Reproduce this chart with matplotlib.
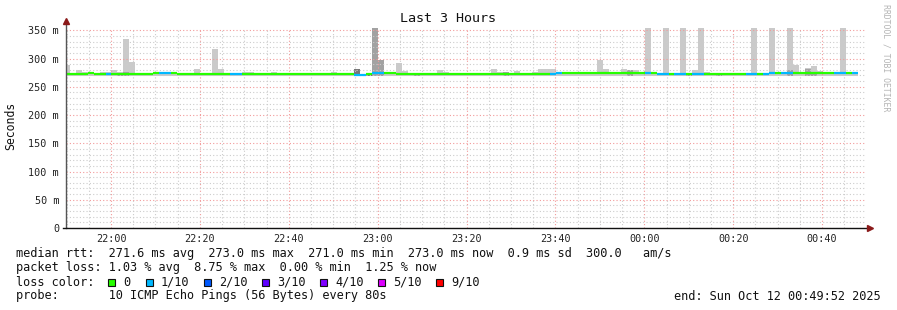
import datetime as dt
import numpy as np
import matplotlib
matplotlib.use("Agg")
import matplotlib.pyplot as plt
import matplotlib.dates as mdates
from matplotlib.patches import Rectangle

# --- data (one value per 80 s step) ---
end_time = dt.datetime(2025, 10, 12, 0, 49, 52)
start_time = end_time - dt.timedelta(hours=3)
step_s = 80
first_step_offset_s = -26   # first rrd step starts slightly before the graph

median_ms = [272, 272, 272, 272, 274, 273, 272, 272, 272, 272,
             272, 272, 272, 272, 273, 275, 275, 275, 273.5, 272,
             272, 272, 272, 272, 272, 272, 272, 272, 272, 272,
             272, 272, 272, 272, 272, 272, 272, 272, 272, 272,
             272, 272, 272, 272, 272, 272, 272, 272, 272, 271,
             271, 272, 275, 275, 275, 273.5, 272, 272, 272, 272,
             272, 272, 272, 272, 272, 272, 272, 272, 272, 272,
             272, 272, 272, 272, 272, 272, 272, 272, 272, 272,
             272, 272, 273, 275, 274.5, 274.5, 274.5, 274.5, 274.5, 274.5,
             274.5, 274.5, 274.5, 274.5, 274.5, 274.5, 274.5, 274.5, 274, 274,
             273, 272, 273, 272, 272, 273, 272, 272, 273, 273,
             273, 272, 272, 272, 272, 272, 272, 272, 273, 274,
             274.5, 274.5, 274.5, 274, 274, 274, 274, 274, 274, 274,
             275, 275, 274, 274]

lost_pings = [0, 0, 0, 0, 0, 0, 0, 1, 0, 0,
              0, 0, 0, 0, 0, 0, 1, 1, 0, 0,
              0, 0, 0, 0, 0, 0, 0, 0, 1, 1,
              0, 0, 0, 0, 0, 0, 0, 0, 0, 0,
              0, 0, 0, 0, 0, 0, 0, 0, 0, 1,
              1, 0, 1, 1, 0, 0, 0, 0, 0, 0,
              0, 0, 0, 0, 0, 0, 0, 0, 0, 0,
              0, 0, 0, 0, 0, 0, 0, 0, 0, 0,
              0, 0, 1, 1, 0, 0, 0, 0, 0, 0,
              0, 0, 0, 0, 0, 0, 0, 0, 1, 0,
              1, 1, 0, 1, 1, 0, 1, 1, 0, 0,
              0, 0, 0, 0, 0, 1, 1, 0, 1, 1,
              0, 1, 1, 0, 0, 0, 0, 0, 0, 0,
              1, 1, 0, 1]

smoke_max_ms = [288, 273, 279, 276, 276, 273, 276, 276, 279, 276,
                334, 293, 275, 273, 273, 273, 273, 273, 273, 275,
                273, 275, 281, 275, 275, 316, 281, 273, 275, 275,
                276, 276, 274, 275, 275, 276, 273, 273, 273, 275,
                273, 275, 273, 273, 275, 276, 273, 274, 273, 281,
                273, 274, 355, 297, 273, 273, 292, 277.5, 273, 275,
                275, 275, 275, 280, 276, 273, 273, 275, 273, 273,
                273, 275, 281, 276, 276, 273, 277.5, 275, 273, 276,
                281, 281, 281, 275, 275, 275, 275, 275, 275, 275,
                297, 281, 275, 275, 281, 279, 279, 275, 355, 275,
                275, 355, 275, 275, 355, 275, 279, 355, 276, 275,
                275, 273, 275, 275, 275, 273, 355, 273, 275, 355,
                276, 276, 355, 288, 276, 283, 286, 277.5, 276, 276,
                276, 355, 276, 276]

# darker smoke bands (step index -> top in ms)
smoke_mid_steps = [9, 10, 52, 53, 59, 74, 95, 105, 110, 122, 125, 126]
smoke_mid_ms = [275, 276, 355, 297, 275, 276, 279, 275, 275, 279, 281, 277]
smoke_dark_steps = [49, 51]
smoke_dark_ms = [281, 274.5]
smoke_min_ms = 269

loss_levels = [0, 1, 2, 3, 4, 5, 9]
loss_labels = ["0", "1/10", "2/10", "3/10", "4/10", "5/10", "9/10"]
loss_colors = ["#26ff00", "#00b8ff", "#0059ff", "#5e00ff", "#7e00ff", "#dd00ff", "#ff0000"]

ytick_values = [0, 50, 100, 150, 200, 250, 300, 350]
ytick_labels = ["0", "50 m", "100 m", "150 m", "200 m", "250 m", "300 m", "350 m"]
xtick_labels = ["22:00", "22:20", "22:40", "23:00", "23:20", "23:40", "00:00", "00:20", "00:40"]

stats_lines = [
    "median rtt:  271.6 ms avg  273.0 ms max  271.0 ms min  273.0 ms now  0.9 ms sd  300.0   am/s",
    "packet loss: 1.03 % avg  8.75 % max  0.00 % min  1.25 % now",
]
probe_text = "probe:       10 ICMP Echo Pings (56 Bytes) every 80s"
end_text = "end: Sun Oct 12 00:49:52 2025"

# --- figure ---
W, H = 897, 310
MONO = "DejaVu Sans Mono"
fig = plt.figure(figsize=(W / 100, H / 100), dpi=100)
fig.patch.set_facecolor("white")


def fx(px):
    return px / W


def fy(py):
    return 1 - py / H


ax = fig.add_axes([fx(66), fy(228), 800 / W, 200 / H])
ax.set_facecolor("white")

n = len(median_ms)
step_days = step_s / 86400.0
lefts = [start_time + dt.timedelta(seconds=first_step_offset_s + step_s * k) for k in range(n)]
lefts_num = mdates.date2num(lefts)

# smoke
top = np.array(smoke_max_ms, dtype=float)
ax.bar(lefts_num, top - smoke_min_ms, bottom=smoke_min_ms, width=step_days,
       align="edge", color="#cacaca", linewidth=0, zorder=2)
ax.bar(lefts_num[smoke_mid_steps], np.array(smoke_mid_ms) - smoke_min_ms, bottom=smoke_min_ms,
       width=step_days, align="edge", color="#a2a2a2", linewidth=0, zorder=2.1)
ax.bar(lefts_num[smoke_dark_steps], np.array(smoke_dark_ms) - smoke_min_ms, bottom=smoke_min_ms,
       width=step_days, align="edge", color="#777777", linewidth=0, zorder=2.2)

# median line coloured by loss
color_of = dict(zip(loss_levels, loss_colors))
seg_colors = [color_of[l] for l in lost_pings]
ax.hlines(median_ms, lefts_num, lefts_num + step_days, colors=seg_colors,
          linewidth=1.6, zorder=3)

ax.set_xlim(mdates.date2num(start_time), mdates.date2num(end_time))
ax.set_ylim(0, 354)

# grid
ax.set_yticks(ytick_values)
ax.set_yticklabels(ytick_labels)
ax.set_yticks(np.arange(0, 351, 10), minor=True)
day0 = dt.datetime(2025, 10, 11)
xt = [day0 + dt.timedelta(hours=22, minutes=20 * i) for i in range(len(xtick_labels))]
ax.set_xticks(mdates.date2num(xt))
ax.set_xticklabels(xtick_labels)
ax.xaxis.set_minor_locator(mdates.MinuteLocator(byminute=range(0, 60, 5)))

ax.grid(which="minor", color="#cccccc", linestyle=(0, (1, 2)), linewidth=0.8, zorder=4)
ax.grid(which="major", color="#f29a9a", linestyle=(0, (1, 2)), linewidth=0.8, zorder=4)
ax.set_axisbelow(False)

ax.tick_params(which="both", length=0)
ax.tick_params(axis="y", pad=5, labelsize=7.3, labelcolor="#222222")
ax.tick_params(axis="x", pad=4, labelsize=7.3, labelcolor="#222222")
for lab in ax.get_xticklabels() + ax.get_yticklabels():
    lab.set_family(MONO)

for s in ax.spines.values():
    s.set_visible(False)

# axes with arrows
ax.plot([0, 0], [0, 1.035], transform=ax.transAxes, color="#555555", lw=1, clip_on=False, zorder=5)
ax.plot([-0.004, 1.005], [0, 0], transform=ax.transAxes, color="#111111", lw=1, clip_on=False, zorder=5)
ax.plot([0], [1.035], transform=ax.transAxes, marker="^", color="#8b1a1a", ms=4, clip_on=False, zorder=6)
ax.plot([1.005], [0], transform=ax.transAxes, marker=">", color="#8b1a1a", ms=4, clip_on=False, zorder=6)

# texts
fig.text(fx(448), fy(19), "Last 3 Hours", ha="center", va="center", family=MONO, fontsize=9.6, color="#111111")
fig.text(fx(11), fy(126), "Seconds", ha="center", va="center", rotation=90, family=MONO, fontsize=8.3, color="#111111")
fig.text(fx(886), fy(4), "RRDTOOL / TOBI OETIKER", ha="center", va="top", rotation=270,
         family=MONO, fontsize=5.9, color="#b4b4b4")

LEG_FS = 8.55
row_y = [254, 268, 282, 296]
for txt, y in zip(stats_lines, row_y[:2]):
    fig.text(fx(16), fy(y), txt, ha="left", va="center", family=MONO, fontsize=LEG_FS, color="#111111")

fig.text(fx(16), fy(row_y[2]), "loss color:", ha="left", va="center", family=MONO, fontsize=LEG_FS, color="#111111")
box_x = [108, 146, 204, 262, 320, 378, 436]
for bx, col, lab in zip(box_x, loss_colors, loss_labels):
    fig.patches.append(Rectangle((fx(bx), fy(row_y[2] + 3.5)), 7 / W, 7 / H, transform=fig.transFigure,
                                 facecolor=col, edgecolor="#111111", linewidth=0.8))
    fig.text(fx(bx + 15), fy(row_y[2]), lab, ha="left", va="center", family=MONO, fontsize=LEG_FS, color="#111111")

fig.text(fx(16), fy(row_y[3]), probe_text, ha="left", va="center", family=MONO, fontsize=LEG_FS, color="#111111")
fig.text(fx(881), fy(row_y[3]), end_text, ha="right", va="center", family=MONO, fontsize=LEG_FS, color="#111111")

fig.savefig("out.png", dpi=100, facecolor="white")
